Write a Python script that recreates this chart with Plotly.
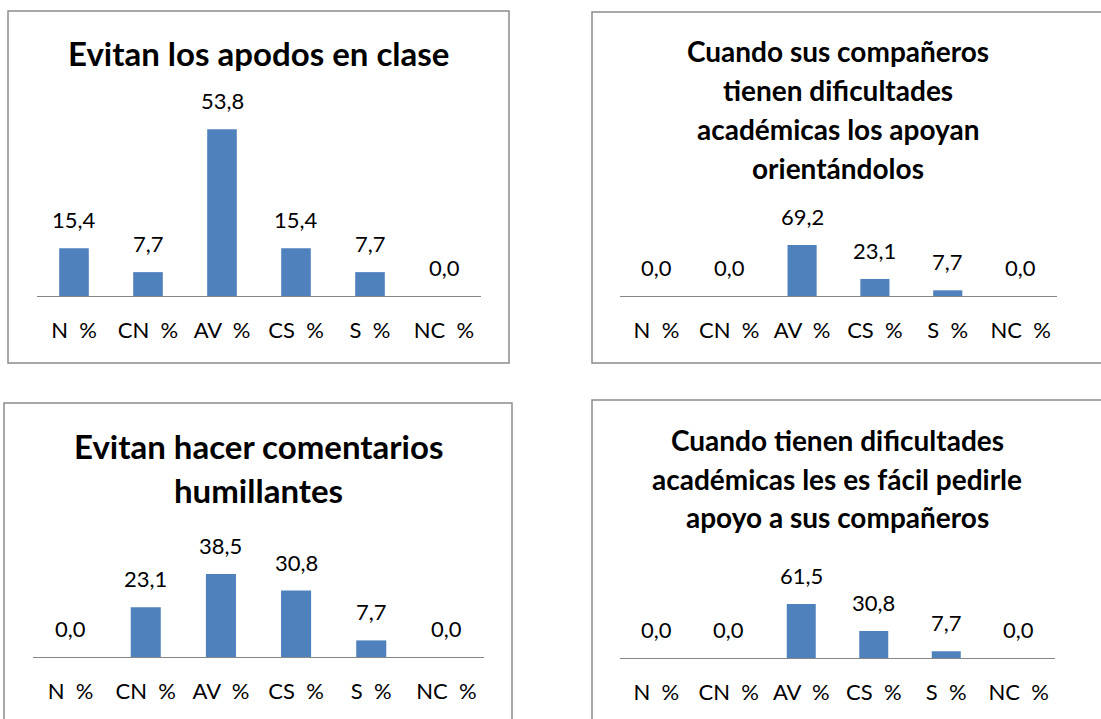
import plotly.graph_objects as go

W, H = 1101, 719

categories = ["N\u00a0\u00a0%", "CN\u00a0\u00a0%", "AV\u00a0\u00a0%", "CS\u00a0\u00a0%", "S\u00a0\u00a0%", "NC\u00a0\u00a0%"]

title_apodos = ["Evitan los apodos en clase"]
title_orientandolos = ["Cuando sus compañeros", "tienen dificultades", "académicas los apoyan", "orientándolos"]
title_humillantes = ["Evitan hacer comentarios", "humillantes"]
title_pedir = ["Cuando tienen dificultades", "académicas les es fácil pedirle", "apoyo a sus compañeros"]

apodos = [15.4, 7.7, 53.8, 15.4, 7.7, 0.0]
orientandolos = [0.0, 0.0, 69.2, 23.1, 7.7, 0.0]
humillantes = [0.0, 23.1, 38.5, 30.8, 7.7, 0.0]
pedir_apoyo = [0.0, 0.0, 61.5, 30.8, 7.7, 0.0]

BAR = "#4F81BD"
AXIS = "#868686"
BORDER = "#8C8C8C"
FONT = "Lato"

# layout in pixels: axis x-extent, baseline y, top y, y max, border box, title first-line centre, line step, size
panels = [
    dict(values=apodos, title=title_apodos, x=(37, 481), base=296, top=110, ymax=60,
         box=(8, 11, 509, 363), tc=(258, 53), step=0, tsize=33),
    dict(values=orientandolos, title=title_orientandolos, x=(620, 1057), base=296, top=237, ymax=80,
         box=(592, 12, 1104, 363), tc=(838, 51), step=39, tsize=28),
    dict(values=humillantes, title=title_humillantes, x=(33, 484), base=657, top=560, ymax=45,
         box=(4, 403, 512, 725), tc=(258, 446), step=44, tsize=33),
    dict(values=pedir_apoyo, title=title_pedir, x=(620, 1055), base=658, top=596.5, ymax=70,
         box=(592, 400, 1104, 725), tc=(837, 440), step=38.5, tsize=28),
]

def px_x(v):
    return v / W

def px_y(v):
    return 1 - v / H

fig = go.Figure()
layout = dict(
    width=W, height=H, margin=dict(l=0, r=0, t=0, b=0),
    paper_bgcolor="white", plot_bgcolor="rgba(0,0,0,0)",
    showlegend=False, bargap=0.6, separators=",.",
    font=dict(family=FONT, color="black"),
)
shapes = []
annotations = []

for i, p in enumerate(panels, start=1):
    xa = "x" if i == 1 else f"x{i}"
    ya = "y" if i == 1 else f"y{i}"
    fig.add_trace(go.Bar(x=categories, y=p["values"], marker=dict(color=BAR, line=dict(width=0)),
                         xaxis=xa, yaxis=ya, hoverinfo="x+y"))
    layout["xaxis" if i == 1 else f"xaxis{i}"] = dict(
        domain=[px_x(p["x"][0]), px_x(p["x"][1])], anchor=ya,
        showline=True, linecolor=AXIS, linewidth=1, showgrid=False, zeroline=False,
        ticks="", tickfont=dict(family=FONT, size=22, color="black"),
        ticklabelstandoff=15, fixedrange=True,
    )
    layout["yaxis" if i == 1 else f"yaxis{i}"] = dict(
        domain=[px_y(p["base"]), px_y(p["top"])], anchor=xa, range=[0, p["ymax"]],
        visible=False, fixedrange=True,
    )
    x0, y0, x1, y1 = p["box"]
    shapes.append(dict(type="rect", xref="paper", yref="paper",
                       x0=px_x(x0), x1=px_x(x1), y0=px_y(y1), y1=px_y(y0),
                       line=dict(color=BORDER, width=1.5), fillcolor="rgba(0,0,0,0)", layer="below"))
    for k, line in enumerate(p["title"]):
        annotations.append(dict(xref="paper", yref="paper", x=px_x(p["tc"][0]),
                                y=px_y(p["tc"][1] + k * p["step"]),
                                xanchor="center", yanchor="middle", showarrow=False, text=line,
                                font=dict(family=FONT, size=p["tsize"], color="black", weight="bold")))
    for c, v in zip(categories, p["values"]):
        annotations.append(dict(xref=xa, yref=ya, x=c, y=v, xanchor="center", yanchor="bottom",
                                yshift=13, showarrow=False, text=f"{v:.1f}".replace(".", ","),
                                font=dict(family=FONT, size=22, color="black")))

layout["shapes"] = shapes
layout["annotations"] = annotations
fig.update_layout(**layout)

fig.write_html("out.html", config={"displayModeBar": False},
               post_script="document.body.style.margin='0';document.body.style.overflow='hidden';")
